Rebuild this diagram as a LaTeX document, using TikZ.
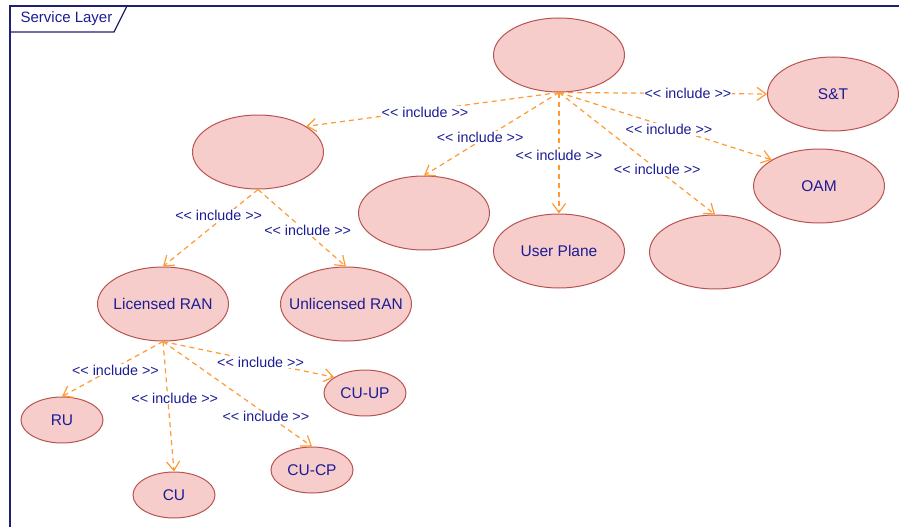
\documentclass[tikz,border=0pt]{standalone}
\usepackage{fontspec}
\setmainfont{Liberation Sans}
\usetikzlibrary{shapes.geometric,arrows.meta}
\definecolor{ufill}{RGB}{246,205,203}
\definecolor{udraw}{RGB}{184,84,80}
\definecolor{utext}{RGB}{28,28,148}
\definecolor{uedge}{RGB}{255,153,51}
\definecolor{uframe}{RGB}{32,32,112}
\newcommand\incl{<\kern0pt< include >\kern0pt>}
\newcommand\uct[1]{\makebox[0pt]{#1}}
\begin{document}
\begin{tikzpicture}[x=1pt,y=-1pt,
 uc/.style={ellipse, draw=udraw, fill=ufill, line width=1pt, minimum width=131pt, minimum height=74pt, inner sep=0pt, text=utext, font=\fontsize{15.5}{18}\selectfont},
 ucs/.style={uc, minimum width=82pt, minimum height=46pt},
 dep/.style={draw=uedge, line width=1.2pt, dash pattern=on 5pt off 4pt, -{Straight Barb[length=9pt,width=13pt]}},
 lbl/.style={fill=white, text=utext, inner sep=1pt, font=\fontsize{14.3}{16}\selectfont}]
\useasboundingbox (0,0) rectangle (899,527);
\begin{scope}
\clip (0,0) rectangle (899,527);
\draw[uframe, line width=1.2pt] (10,6) rectangle (930,560);
\end{scope}
\draw[uframe, line width=1.2pt] (10,32) -- (114,32) -- (127,6);
\node[text=utext, inner sep=0pt, font=\fontsize{15}{18}\selectfont] (title) at (66.5,19) {Service Layer};
\node[uc] (top) at (559,55) {};
\node[uc] (st) at (833,94) {\uct{S\&T}};
\node[uc] (left) at (258,152) {};
\node[uc] (mid) at (424,213) {};
\node[uc] (up) at (559,251) {\uct{User Plane}};
\node[uc] (rb) at (715,252) {};
\node[uc] (oam) at (819,186) {\uct{OAM}};
\node[uc] (lic) at (163,304) {\uct{Licensed RAN}};
\node[uc] (unl) at (346,304) {\uct{Unlicensed RAN}};
\node[ucs] (ru) at (62,420) {\uct{RU}};
\node[ucs] (cu) at (174,495) {\uct{CU}};
\node[ucs] (cucp) at (312,470) {\uct{CU-CP}};
\node[ucs] (cuup) at (365,393) {\uct{CU-UP}};
\draw[dep] (top.south) -- node[lbl,pos=0.53,yshift=-2pt]{\incl} (left.28);
\draw[dep] (top.south) -- node[lbl,pos=0.54,xshift=-6pt]{\incl} (mid.north);
\draw[dep] (top.south) -- node[lbl,pos=0.52]{\incl} (up.north);
\draw[dep] (top.south) -- node[lbl,pos=0.63]{\incl} (rb.north);
\draw[dep] (top.south) -- node[lbl,pos=0.55,xshift=-7pt]{\incl} (oam.151.5);
\draw[dep] (top.south) -- node[lbl,pos=0.62]{\incl} (st.west);
\draw[dep] (left.south) -- node[lbl,pos=0.33,xshift=-8pt]{\incl} (lic.north);
\draw[dep] (left.south) -- node[lbl,pos=0.53,xshift=3pt]{\incl} (unl.north);
\draw[dep] (lic.south) -- node[lbl,pos=0.52,xshift=5pt]{\incl} (ru.north);
\draw[dep] (lic.south) -- node[lbl,pos=0.435,xshift=7pt]{\incl} (cu.north);
\draw[dep] (lic.south) -- node[lbl,pos=0.717,xshift=-4pt]{\incl} (cucp.north);
\draw[dep] (lic.south) -- node[lbl,pos=0.57]{\incl} (cuup.153);
\end{tikzpicture}
\end{document}
